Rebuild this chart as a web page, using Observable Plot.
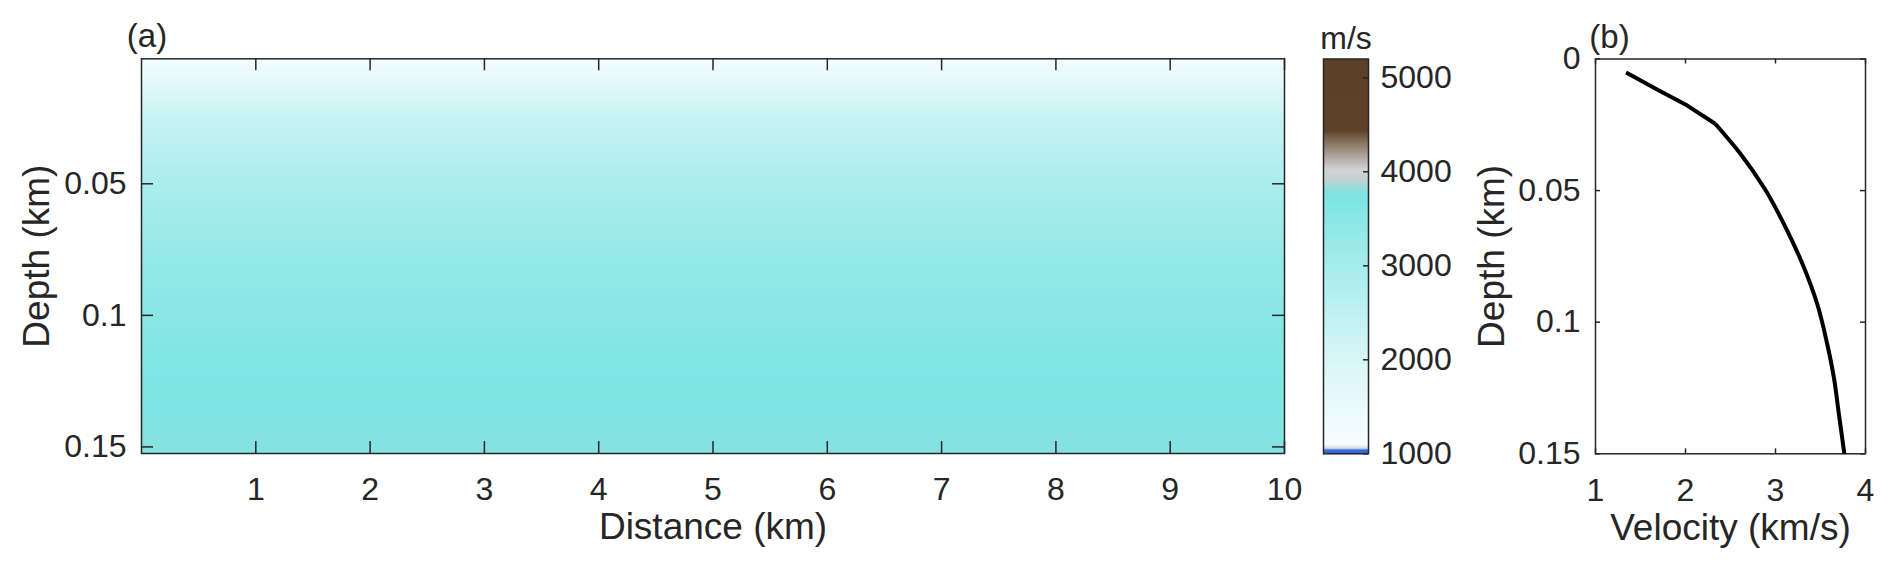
<!DOCTYPE html>
<html>
<head>
<meta charset="utf-8">
<script src="https://cdn.jsdelivr.net/npm/d3@7"></script>
<script src="https://cdn.jsdelivr.net/npm/@observablehq/plot@0.6"></script>
<style>
  body { margin: 0; background: #fff; }
  #wrap { position: relative; width: 1892px; height: 574px; overflow: hidden; background: #fff; }
  #wrap svg { position: absolute; top: 0; overflow: visible; }
</style>
</head>
<body>
<div id="wrap"></div>
<script>
// ---------------- data ----------------
// 1-D velocity profile (panel b), also the laterally homogeneous model of panel a
const depthKm     = [0.0051, 0.0117, 0.0177, 0.0246, 0.0360, 0.0493, 0.0652, 0.0791, 0.0930, 0.1082, 0.1209, 0.1348, 0.1500];
const velocityKms = [1.340, 1.690, 2.020, 2.330, 2.610, 2.880, 3.130, 3.315, 3.463, 3.574, 3.648, 3.704, 3.765];
const kinkIndex = 3; // sharp change of gradient at ~2.33 km/s

// model extent of panel (a)
const distanceRange = [0, 10];
const depthRangeA   = [0.0025, 0.1525];
const depthRangeB   = [0, 0.15];
const velocityRange = [1, 4];
const colorbarRange = [1000, 5200];

// tick labels
const distanceTicks = [1, 2, 3, 4, 5, 6, 7, 8, 9, 10];
const depthTicksA   = [0.05, 0.1, 0.15];
const depthTicksB   = [0, 0.05, 0.1, 0.15];
const velocityTicks = [1, 2, 3, 4];
const colorbarTicks = [1000, 2000, 3000, 4000, 5000];

// colormap (m/s -> colour)
const colorStops = [1000, 1045, 1052, 1085, 1095, 1500, 2000, 2500, 3000, 3400, 3700, 3800, 3920, 4020, 4180, 4320, 4440, 5200];
const colorRamp  = ["#2a5fd9", "#3b70e1", "#d3d9e2", "#e8eef2", "#f6fdfe", "#ebfafc", "#d8f6f7", "#c0f1f2",
                    "#a6ecec", "#90e8e7", "#7de5e3", "#8ae0de", "#c4d2d2", "#d3d3d3", "#aaa199", "#85705d",
                    "#5e4129", "#5c4027"];

// ---------------- helpers ----------------
const FONT = '"Liberation Sans", Arial, Helvetica, sans-serif';
const INK = "#262626";
const TICK_FS = 32, LABEL_FS = 37, PANEL_FS = 33;
const style = {fontFamily: FONT, fontSize: TICK_FS + "px", color: INK, background: "transparent", overflow: "visible"};
const colorScale = {type: "linear", domain: colorStops, range: colorRamp, interpolate: "rgb"};
const fmt = d => String(d);
const centred = {textAnchor: "middle", lineAnchor: "middle"};

const H = 574;
const wrap = document.getElementById("wrap");
function place(svg, left) { svg.style.left = left + "px"; wrap.appendChild(svg); }

// tick marks drawn inside the frame
function insideTicks(xt, yt, fw, fh, len, sides) {
  const o = {stroke: INK, strokeWidth: 1.5};
  const m = [];
  if (xt && sides.includes("b")) m.push(Plot.tickX(xt, {x: d => d, insetTop: fh - len, ...o}));
  if (xt && sides.includes("t")) m.push(Plot.tickX(xt, {x: d => d, insetBottom: fh - len, ...o}));
  if (yt && sides.includes("l")) m.push(Plot.tickY(yt, {y: d => d, insetRight: fw - len, ...o}));
  if (yt && sides.includes("r")) m.push(Plot.tickY(yt, {y: d => d, insetLeft: fw - len, ...o}));
  return m;
}

// ---------------- panel (a): velocity model ----------------
{
  const W = 1300, ml = 141, mr = 16, mt = 58.3, mb = 121;
  const fw = W - ml - mr, fh = H - mt - mb;
  const field = depthKm.flatMap((d, i) => distanceRange.map(x => ({x, depth: d, v: velocityKms[i] * 1000})));
  const svg = Plot.plot({
    width: W, height: H, marginLeft: ml, marginRight: mr, marginTop: mt, marginBottom: mb,
    style,
    x: {domain: distanceRange},
    y: {domain: depthRangeA, reverse: true},
    color: colorScale,
    marks: [
      Plot.raster(field, {x: "x", y: "depth", fill: "v", interpolate: "barycentric",
        x1: distanceRange[0], x2: distanceRange[1], y1: depthRangeA[0], y2: depthRangeA[1]}),
      ...insideTicks(distanceTicks, depthTicksA, fw, fh, 12, "btlr"),
      Plot.frame({stroke: INK, strokeWidth: 1.5}),
      Plot.axisX(distanceTicks, {anchor: "bottom", tickSize: 0, tickPadding: 24, label: null, tickFormat: fmt}),
      Plot.axisY(depthTicksA, {anchor: "left", tickSize: 0, tickPadding: 15, label: null, tickFormat: fmt}),
      Plot.text(["Distance (km)"], {frameAnchor: "bottom", dy: 74, fontSize: LABEL_FS, ...centred}),
      Plot.text(["Depth (km)"], {frameAnchor: "left", dx: -104, rotate: -90, fontSize: LABEL_FS, ...centred}),
      Plot.text(["(a)"], {frameAnchor: "top-left", dx: 5.5, dy: -22, fontSize: PANEL_FS, ...centred})
    ]
  });
  place(svg, 0);
}

// ---------------- colorbar ----------------
{
  const W = 200, ml = 23, mr = 132, mt = 58.5, mb = 120.7;
  const fw = W - ml - mr, fh = H - mt - mb;
  const svg = Plot.plot({
    width: W, height: H, marginLeft: ml, marginRight: mr, marginTop: mt, marginBottom: mb,
    style,
    x: {domain: [0, 1], axis: null},
    y: {domain: colorbarRange},
    color: colorScale,
    marks: [
      Plot.raster({fill: (x, y) => y, x1: 0, x2: 1, y1: colorbarRange[0], y2: colorbarRange[1]}),
      ...insideTicks(null, colorbarTicks, fw, fh, 5, "r"),
      Plot.frame({stroke: INK, strokeWidth: 1.5}),
      Plot.axisY(colorbarTicks, {anchor: "right", tickSize: 0, tickPadding: 12, label: null, tickFormat: fmt}),
      Plot.text(["m/s"], {frameAnchor: "top", dy: -20, fontSize: TICK_FS, ...centred})
    ]
  });
  place(svg, 1300);
}

// ---------------- panel (b): 1-D profile ----------------
{
  const W = 442, ml = 145, mr = 27, mt = 58.5, mb = 120.7;
  const fw = W - ml - mr, fh = H - mt - mb;
  const profile = depthKm.map((d, i) => ({d, v: velocityKms[i]}));
  const lineStyle = {x: "v", y: "d", stroke: "#000", strokeWidth: 4, strokeLinejoin: "miter", strokeLinecap: "butt"};
  const svg = Plot.plot({
    width: W, height: H, marginLeft: ml, marginRight: mr, marginTop: mt, marginBottom: mb,
    style,
    x: {domain: velocityRange},
    y: {domain: depthRangeB, reverse: true},
    marks: [
      ...insideTicks(velocityTicks, depthTicksB, fw, fh, 5, "btlr"),
      Plot.frame({stroke: INK, strokeWidth: 1.5}),
      Plot.line(profile.slice(0, kinkIndex + 1), {...lineStyle, curve: "linear"}),
      Plot.line(profile.slice(kinkIndex), {...lineStyle, curve: "monotone-y"}),
      Plot.axisX(velocityTicks, {anchor: "bottom", tickSize: 0, tickPadding: 24, label: null, tickFormat: fmt}),
      Plot.axisY(depthTicksB, {anchor: "left", tickSize: 0, tickPadding: 15, label: null, tickFormat: fmt}),
      Plot.text(["Velocity (km/s)"], {frameAnchor: "bottom", dy: 74, fontSize: LABEL_FS, ...centred}),
      Plot.text(["Depth (km)"], {frameAnchor: "left", dx: -103, rotate: -90, fontSize: LABEL_FS, ...centred}),
      Plot.text(["(b)"], {frameAnchor: "top-left", dx: 14, dy: -22, fontSize: PANEL_FS, ...centred})
    ]
  });
  place(svg, 1450);
}
</script>
</body>
</html>
